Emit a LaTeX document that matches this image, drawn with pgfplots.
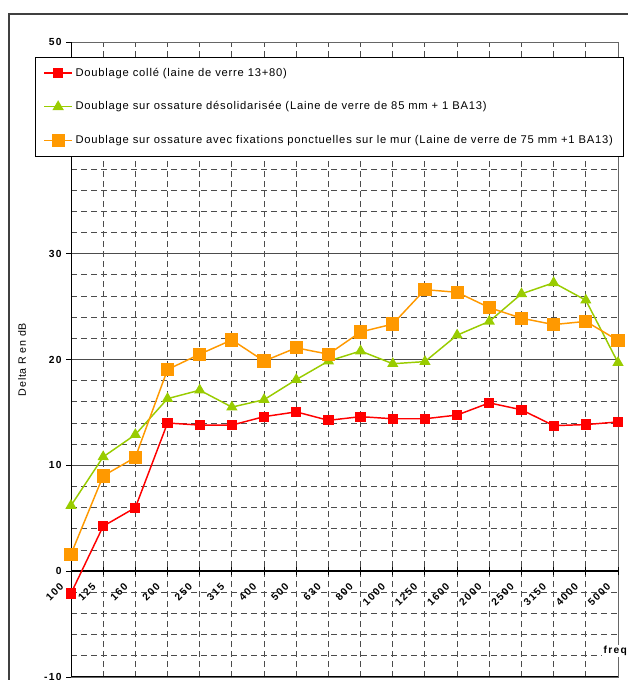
\documentclass[border=0pt]{standalone}
\usepackage{fontspec}
\setmainfont{Liberation Sans}
\newfontfamily\lsfont[LetterSpace=7]{Liberation Sans}
\newfontfamily\tkfont[LetterSpace=13]{Liberation Sans}
\usepackage{pgfplots}
\pgfplotsset{compat=1.18}
\definecolor{xlred}{HTML}{FF0000}
\definecolor{xlgreen}{HTML}{99CC00}
\definecolor{xlorange}{HTML}{FF9900}
\begin{document}
\begin{tikzpicture}
\begin{axis}[
 scale only axis, width=410.25pt, height=476.25pt,
 at={(53.25pt,2.25pt)}, anchor=south west,
 xmin=0, xmax=17, ymin=-10, ymax=50,
 clip=false,
 xtick={0,...,17},
 xticklabels={100,125,160,200,250,315,400,500,630,800,1000,1250,1600,2000,2500,3150,4000,5000},
 minor xtick={0,...,17},
 ytick={-10,0,10,20,30,40,50},
 minor y tick num=4,
 xminorgrids, ymajorgrids, yminorgrids,
 major grid style={solid, black!70, line width=0.7pt},
 minor grid style={dash pattern=on 4.5pt off 3pt, black!70, line width=0.7pt},
 axis line style={black!60, line width=0.7pt},
 tick align=outside, ytick pos=left, xtick pos=bottom,
 xtick style={draw=none}, ytick style={black, line width=0.7pt},
 major tick length=3.5pt, minor tick length=0pt,
 /pgf/number format/assume math mode=true,
 ticklabel style={font=\tkfont\fontsize{7.7}{9}\selectfont\bfseries},
 xticklabel style={xshift=-4.5pt, yshift=75.35pt, rotate=45, anchor=east},
 ylabel={Delta R en dB},
 every axis y label/.style={at={(axis description cs:-0.0896,0.5)}, rotate=90, anchor=center, font=\lsfont\fontsize{8}{9.6}\selectfont},
 legend style={at={(axis description cs:-0.0658,0.9764)}, anchor=north west, draw=black, line width=0.6pt, fill=white, font=\lsfont\fontsize{8.4}{10}\selectfont, row sep=13.5pt, inner xsep=6pt, inner ysep=6pt},
 legend cell align=left,
 legend image code/.code={\draw[mark repeat=2,mark phase=2,#1] plot coordinates {(0pt,0pt) (10.5pt,0pt) (21pt,0pt)};},
]
\draw[black, line width=0.75pt] (rel axis cs:0,0) -- (rel axis cs:0,1);
\draw[black, line width=0.75pt] (rel axis cs:0,0) -- (rel axis cs:1,0);
\draw[black, line width=1.5pt] (axis cs:0,0) -- (axis cs:17,0);
\pgfplotsinvokeforeach{1,...,17}{\draw[black, line width=0.75pt] ([yshift=-3pt]axis cs:#1,0) -- ([yshift=3pt]axis cs:#1,0);}
\node[anchor=west, fill=white, inner sep=1pt, font=\tkfont\fontsize{7.7}{9}\selectfont\bfseries] at (rel axis cs:0.9707,0.041) {freq};

\addplot[color=xlred, line width=1.1pt, mark=square*, mark size=3.3pt] coordinates {
(0,-2.1) (1,4.25) (2,6.0) (3,14.0) (4,13.8) (5,13.8) (6,14.6) (7,15.05) (8,14.25)
(9,14.6) (10,14.4) (11,14.4) (12,14.75) (13,15.9) (14,15.25) (15,13.75) (16,13.85) (17,14.1)};
\addlegendentry{Doublage collé (laine de verre 13+80)}
\addplot[color=xlgreen, line width=1.1pt, mark=triangle*, mark size=3.8pt] coordinates {
(0,6.2) (1,10.8) (2,12.9) (3,16.3) (4,17.1) (5,15.5) (6,16.2) (7,18.1) (8,19.85)
(9,20.8) (10,19.6) (11,19.8) (12,22.3) (13,23.6) (14,26.2) (15,27.25) (16,25.6) (17,19.7)};
\addlegendentry{Doublage sur ossature désolidarisée (Laine de verre de 85 mm + 1 BA13)}
\addplot[color=xlorange, line width=1.1pt, mark=square*, mark size=4.4pt] coordinates {
(0,1.6) (1,9.0) (2,10.75) (3,19.05) (4,20.5) (5,21.85) (6,19.85) (7,21.1) (8,20.5)
(9,22.6) (10,23.35) (11,26.6) (12,26.35) (13,24.9) (14,23.9) (15,23.3) (16,23.6) (17,21.8)};
\addlegendentry{Doublage sur ossature avec fixations ponctuelles sur le mur (Laine de verre de 75 mm +1 BA13)}
\end{axis}
\draw[line width=1.5pt, black!75] (6.75pt,-5pt) -- (6.75pt,499.5pt) -- (480pt,499.5pt);
\pgfresetboundingbox
\path[use as bounding box] (0,0) rectangle (470.25pt,510pt);
\end{tikzpicture}
\end{document}
